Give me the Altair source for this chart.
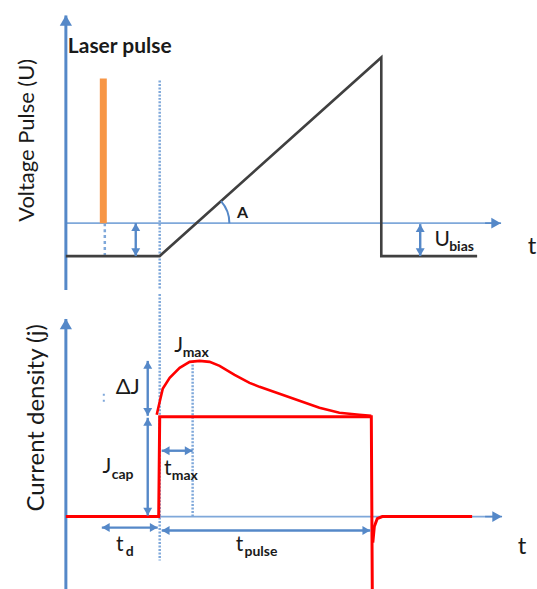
import math
import altair as alt
import pandas as pd

# ---------------------------------------------------------------
# Scales: one shared time axis, a voltage axis (top) and a current
# density axis (bottom), all in arbitrary units.
# ---------------------------------------------------------------
T_DOMAIN = [-6.6, 47.1]
U_DOMAIN = [-6.7, 22.3]
J_DOMAIN = [-7.6, 22.3]

W = 537
TOP_H = 290
BOT_H = 299

BLUE = "#5588c8"
BLUE_LIGHT = "#7fa8da"
GRAY = "#404040"
RED = "#ff0000"
ORANGE = "#f79646"
INK = "#1a1a1a"
FONT = "Lato"

# ---- voltage pulse (top panel) ----
U_BIAS = -3.3
U_PEAK = 16.6
T_START = 9.4        # start of the voltage ramp / current step
T_END_U = 31.6       # end of the voltage ramp
T_END_TAIL = 41.2
volt_t = [0.0, T_START, T_END_U, T_END_U, T_END_TAIL]
volt_u = [U_BIAS, U_BIAS, U_PEAK, U_BIAS, U_BIAS]

laser_t = [3.4, 4.1]
laser_u = [0.0, 14.5]

# ---- current density (bottom panel) ----
J_CAP = 10.0
J_PEAK = 15.6
T_MAX = 12.7
T_END_J = 30.6
step_t = [0.0, 9.3, T_START, T_END_J, T_END_J + 0.1]
step_j = [0.0, 0.0, J_CAP, J_CAP, J_DOMAIN[0]]

hump_t = [9.1, 9.4, 9.7, 10.4, 11.4, 12.4, 13.4, 14.4, 15.4, 16.9, 18.4,
          19.4, 21.4, 23.4, 25.4, 27.4, 29.4, 30.6]
hump_j = [10.2, 11.5, 12.8, 13.9, 14.9, 15.5, 15.6, 15.5, 15.1, 14.2, 13.4,
          13.0, 12.3, 11.6, 10.9, 10.4, 10.2, 10.1]

recov_t = [30.75, 30.9, 31.2, 31.7, 40.7]
recov_j = [-2.6, -1.0, -0.2, 0.0, 0.0]


def xs():
    return alt.Scale(domain=T_DOMAIN, nice=False, zero=False)


def ys(dom):
    return alt.Scale(domain=dom, nice=False, zero=False)


def enc_xy(dom):
    return dict(
        x=alt.X("t:Q", scale=xs(), axis=None),
        y=alt.Y("v:Q", scale=ys(dom), axis=None),
    )


def polyline(t, v, dom, color, width, dash=None):
    df = pd.DataFrame({"t": t, "v": v, "i": range(len(t))})
    kw = dict(color=color, strokeWidth=width, strokeCap="butt", strokeJoin="miter")
    if dash:
        kw["strokeDash"] = dash
    return alt.Chart(df).mark_line(**kw).encode(order="i:Q", **enc_xy(dom))


def segments(rows, dom, color, width, dash=None):
    df = pd.DataFrame(rows, columns=["t", "v", "t2", "v2"])
    kw = dict(color=color, strokeWidth=width)
    if dash:
        kw["strokeDash"] = dash
    return alt.Chart(df).mark_rule(**kw).encode(
        x2="t2:Q", y2="v2:Q", **enc_xy(dom)
    )


def arrows(rows, dom, size, width, color=BLUE, heads="both", inset=0.4):
    """rows: (t1, v1, t2, v2). Heads drawn at the tips, pulled in slightly."""
    shafts = segments(rows, dom, color, width)
    pts = []
    for t1, v1, t2, v2 in rows:
        dt, dv = t2 - t1, v2 - v1
        n = math.hypot(dt, dv)
        ut, uv = dt / n, dv / n

        def shape(ux, uy):
            if abs(ux) > abs(uy):
                return "triangle-right" if ux > 0 else "triangle-left"
            return "triangle-up" if uy > 0 else "triangle-down"

        pts.append((t2 - ut * inset, v2 - uv * inset, shape(ut, uv)))
        if heads == "both":
            pts.append((t1 + ut * inset, v1 + uv * inset, shape(-ut, -uv)))
    hdf = pd.DataFrame(pts, columns=["t", "v", "shape"])
    head_layer = alt.Chart(hdf).mark_point(
        filled=True, size=size, opacity=1, color=color, strokeWidth=0
    ).encode(shape=alt.Shape("shape:N", scale=None, legend=None), **enc_xy(dom))
    return [shafts, head_layer]


def labels(rows, dom, size, align="center", angle=0, weight="normal"):
    df = pd.DataFrame(rows, columns=["t", "v", "label"])
    return alt.Chart(df).mark_text(
        font=FONT, fontSize=size, align=align, baseline="middle",
        angle=angle, color=INK, fontWeight=weight,
    ).encode(text="label:N", **enc_xy(dom))


# ---------------------------------------------------------------
# Top panel: voltage pulse
# ---------------------------------------------------------------
# angle of the ramp against the time axis
slope = (U_PEAK - U_BIAS) / (T_END_U - T_START)
t_cross = T_START + (0 - U_BIAS) / slope
ramp_angle = math.atan(slope)
arc_df = pd.DataFrame({"t": [t_cross], "v": [0.0]})
arc = alt.Chart(arc_df).mark_arc(
    radius=34, radius2=32, theta=math.pi / 2 - ramp_angle, theta2=math.pi / 2,
    color=BLUE,
).encode(**enc_xy(U_DOMAIN))

top_layers = []
top_layers += [segments([(0.0, 0.0, 43.0, 0.0)], U_DOMAIN, BLUE_LIGHT, 1.6)]
top_layers += arrows([(0.0, U_DOMAIN[0], 0.0, 20.8)], U_DOMAIN, 150, 3,
                     heads="one", inset=0.5)
top_layers += arrows([(42.0, 0.0, 43.6, 0.0)], U_DOMAIN, 120, 1.6,
                     heads="one", inset=0.5)
top_layers += [
    segments([(T_START, 14.3, T_START, U_DOMAIN[0])], U_DOMAIN, BLUE_LIGHT, 2.5, [2, 1.5]),
    segments([(3.9, 0.0, 3.9, U_BIAS)], U_DOMAIN, BLUE_LIGHT, 2.5, [3, 3]),
    alt.Chart(pd.DataFrame({"t": [laser_t[0]], "t2": [laser_t[1]],
                            "v": [laser_u[0]], "v2": [laser_u[1]]}))
    .mark_rect(color=ORANGE)
    .encode(x2="t2:Q", y2="v2:Q", **enc_xy(U_DOMAIN)),
    polyline(volt_t, volt_u, U_DOMAIN, GRAY, 2.6),
    arc,
]
top_layers += arrows([(7.0, 0.0, 7.0, U_BIAS), (35.5, -0.1, 35.5, U_BIAS)],
                     U_DOMAIN, 80, 2.4)
top_layers += [
    labels([(0.2, 17.6, "Laser pulse")], U_DOMAIN, 21, align="left", weight="bold"),
    labels([(17.7, 1.0, "A")], U_DOMAIN, 16, weight="bold"),
    labels([(37.7, -1.7, "U")], U_DOMAIN, 21),
    labels([(38.4, -2.4, "bias")], U_DOMAIN, 14, align="left", weight="bold"),
    labels([(46.7, -2.4, "t")], U_DOMAIN, 24),
    labels([(-3.9, 8.3, "Voltage Pulse (U)")], U_DOMAIN, 22, angle=270),
]
top = alt.layer(*top_layers).properties(width=W, height=TOP_H)

# ---------------------------------------------------------------
# Bottom panel: current density
# ---------------------------------------------------------------
bot_layers = []
bot_layers += [segments([(0.0, 0.0, 43.0, 0.0)], J_DOMAIN, BLUE_LIGHT, 1.6)]
bot_layers += arrows([(0.0, J_DOMAIN[0], 0.0, 19.8)], J_DOMAIN, 150, 3,
                     heads="one", inset=0.5)
bot_layers += arrows([(42.0, 0.0, 43.7, 0.0)], J_DOMAIN, 120, 1.6,
                     heads="one", inset=0.5)
bot_layers += [
    segments([(T_START, J_DOMAIN[1], T_START, -4.4)], J_DOMAIN, BLUE_LIGHT, 2.5, [2, 1.5]),
    segments([(T_MAX, J_PEAK, T_MAX, 0.0)], J_DOMAIN, BLUE_LIGHT, 2.5, [2, 1.5]),
    segments([(3.8, 12.3, 3.8, 11.4)], J_DOMAIN, BLUE_LIGHT, 2, [2, 4]),
    polyline(step_t, step_j, J_DOMAIN, RED, 3),
    polyline(hump_t, hump_j, J_DOMAIN, RED, 2.6),
    polyline(recov_t, recov_j, J_DOMAIN, RED, 3),
]
bot_layers += arrows(
    [
        (8.2, 10.1, 8.2, 15.6),    # delta J
        (8.2, 0.1, 8.2, 9.9),      # J_cap
        (9.6, 6.6, 12.7, 6.6),     # t_max
        (3.6, -1.1, 9.2, -1.1),    # t_d
        (9.6, -1.4, 30.5, -1.4),   # t_pulse
    ],
    J_DOMAIN, 80, 2.4,
)
bot_layers += [
    labels([(11.3, 17.1, "J"), (10.2, 4.8, "t"), (4.1, 5.0, "J"),
            (5.4, -2.8, "t"), (17.4, -2.8, "t")], J_DOMAIN, 21),
    labels([(11.7, 16.4, "max"), (10.6, 4.1, "max"), (4.6, 4.2, "cap"),
            (6.0, -3.5, "d"), (17.9, -3.5, "pulse")], J_DOMAIN, 14,
           align="left", weight="bold"),
    labels([(6.2, 13.0, "ΔJ")], J_DOMAIN, 22),
    labels([(45.7, -3.0, "t")], J_DOMAIN, 24),
    labels([(-2.9, 9.9, "Current density (j)")], J_DOMAIN, 24, angle=270),
]
bottom = alt.layer(*bot_layers).properties(width=W, height=BOT_H)

chart = (
    alt.vconcat(top, bottom, spacing=0)
    .properties(padding=0, background="white")
    .configure_view(stroke=None)
)

chart.save("out.html", embed_options={"renderer": "svg", "actions": False})
